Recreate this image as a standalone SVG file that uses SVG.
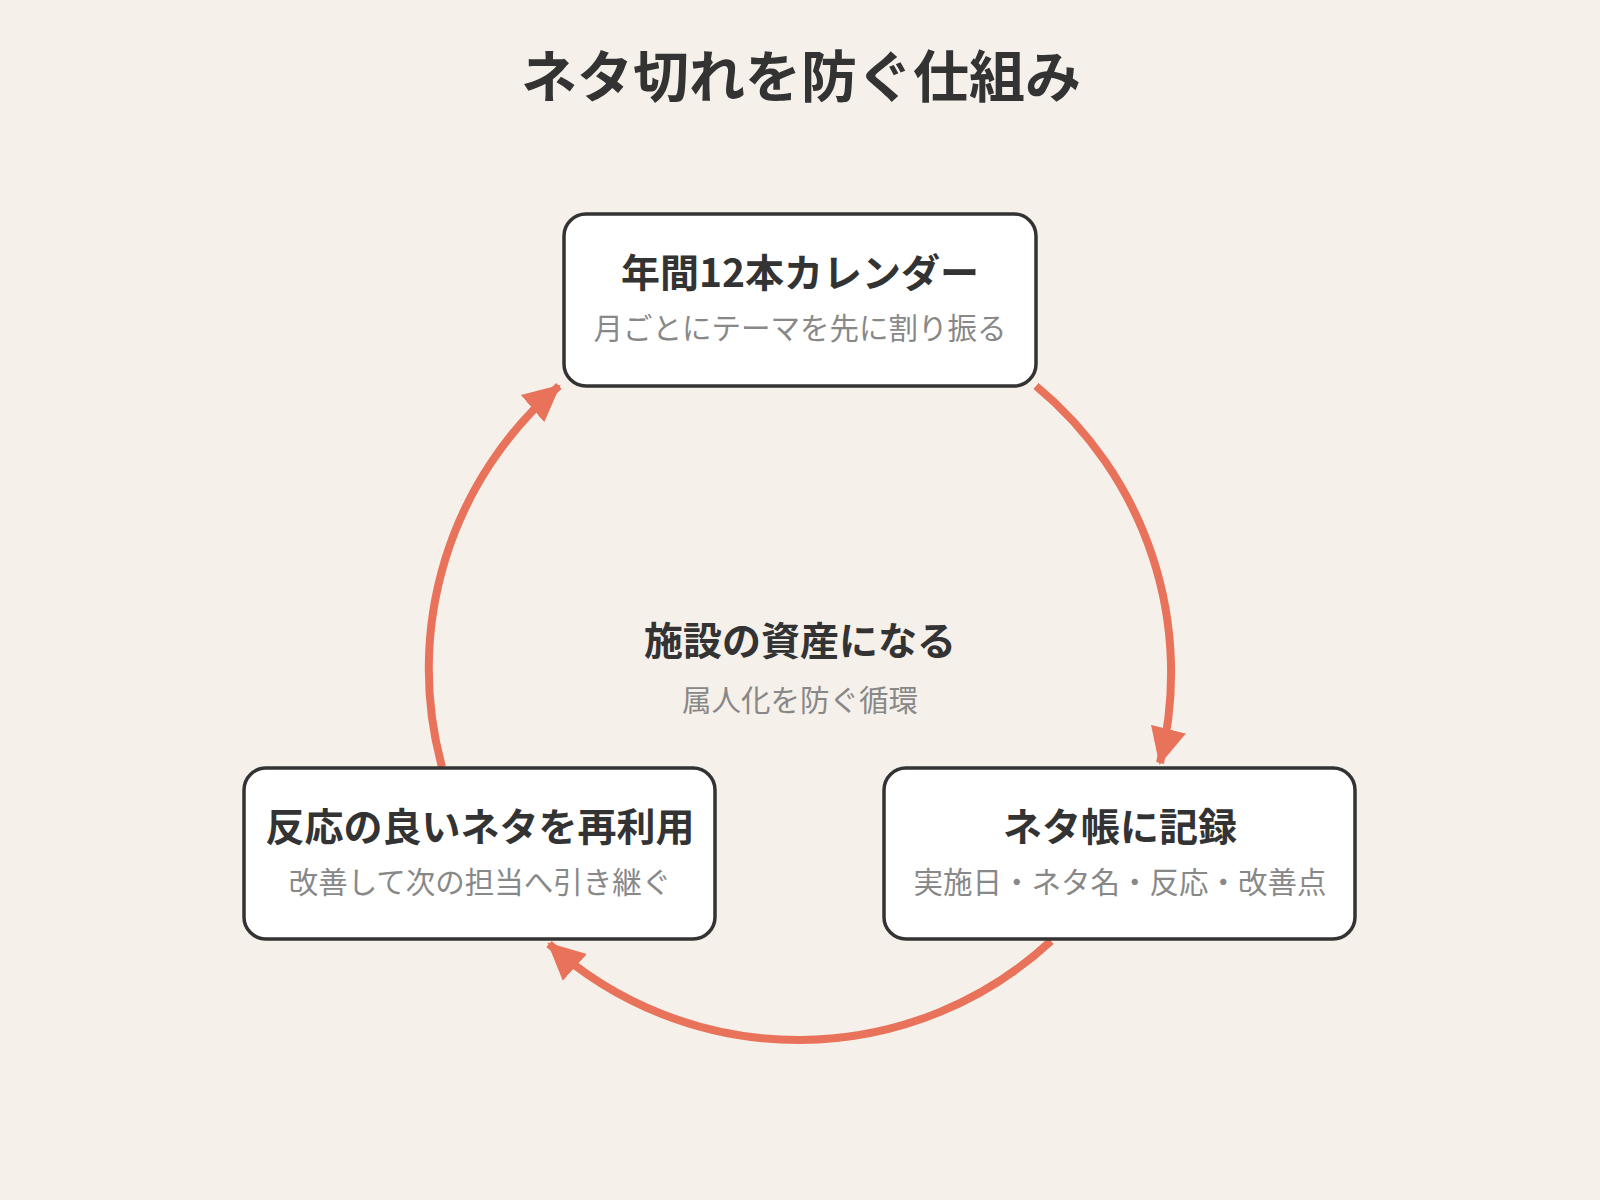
<svg xmlns="http://www.w3.org/2000/svg" width="1600" height="1200" viewBox="0 0 1600 1200">
<style>
.box{fill:#fff;stroke:#333;stroke-width:3.5}
.t{font-family:"Noto Sans CJK JP","Noto Sans",sans-serif;font-weight:bold;fill:#333;text-anchor:middle}
.s{font-family:"Noto Sans CJK JP","Noto Sans",sans-serif;fill:#888;text-anchor:middle;font-size:29.5px}
.c{fill:none;stroke:#E8735A;stroke-width:8}
</style>
<defs><marker id="a" markerUnits="userSpaceOnUse" markerWidth="38" markerHeight="38" refX="33" refY="17" orient="auto" viewBox="0 0 36 34"><path d="M0,0 L35,17 L0,34 Z" fill="#E8735A"/></marker></defs>
<rect width="1600" height="1200" fill="#F5F0EA"/>
<text class="t" x="801" y="97" font-size="56">ネタ切れを防ぐ仕組み</text>
<g id="connectors">
<path class="c" d="M1036,386 A372,372 0 0 1 1160,763" marker-end="url(#a)"/>
<path class="c" d="M1051,941 A372,372 0 0 1 549,944" marker-end="url(#a)"/>
<path class="c" d="M442,767 A372,372 0 0 1 559,386" marker-end="url(#a)"/>
</g>
<g id="n1"><rect class="box" x="564" y="214" width="472" height="172" rx="22"/>
<text class="t" x="800" y="287" font-size="39">年間12本カレンダー</text>
<text class="s" x="800" y="339">月ごとにテーマを先に割り振る</text></g>
<g id="n2"><rect class="box" x="884" y="768" width="471" height="171" rx="22"/>
<text class="t" x="1120" y="841" font-size="39">ネタ帳に記録</text>
<text class="s" x="1120" y="893">実施日・ネタ名・反応・改善点</text></g>
<g id="n3"><rect class="box" x="244" y="768" width="471" height="171" rx="22"/>
<text class="t" x="480" y="841" font-size="39">反応の良いネタを再利用</text>
<text class="s" x="480" y="893">改善して次の担当へ引き継ぐ</text></g>
<g id="center">
<text class="t" x="800" y="655" font-size="39">施設の資産になる</text>
<text class="s" x="800" y="711">属人化を防ぐ循環</text></g>
</svg>
